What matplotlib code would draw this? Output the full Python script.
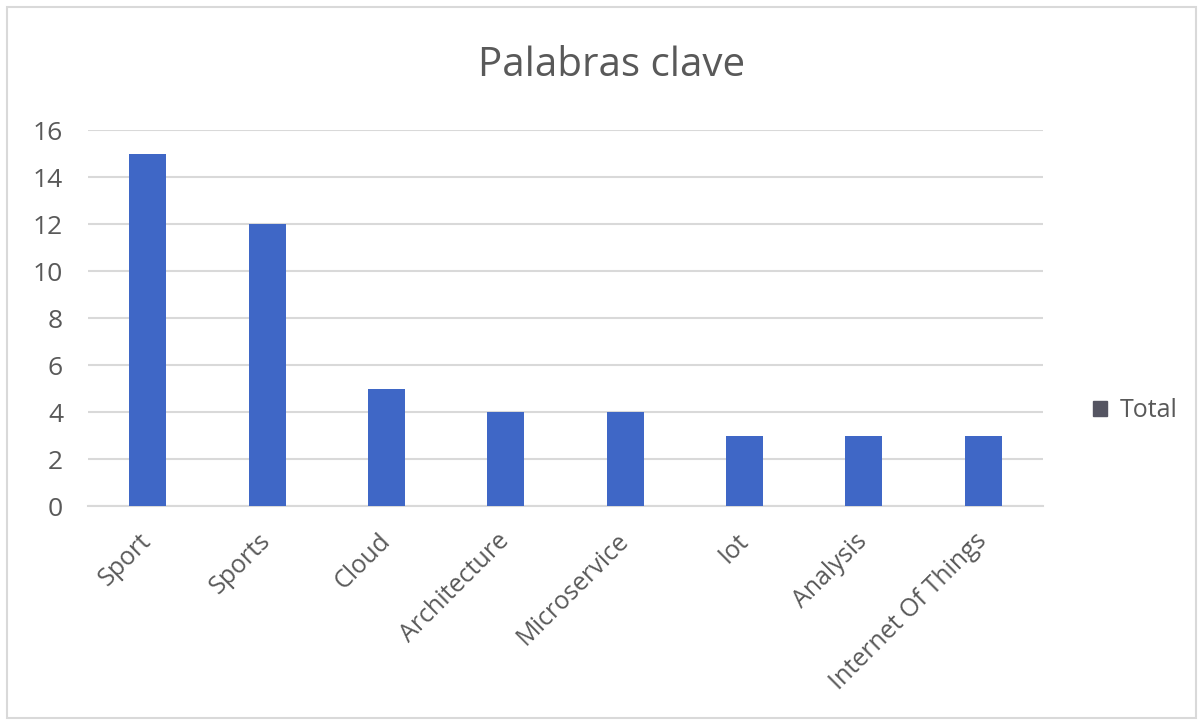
import matplotlib.pyplot as plt
import matplotlib.transforms as mtransforms
from matplotlib.patches import Rectangle

categories = ['Sport', 'Sports', 'Cloud', 'Architecture', 'Microservice',
              'Iot', 'Analysis', 'Internet Of Things']
totals = [15, 12, 5, 4, 4, 3, 3, 3]
y_ticks = [0, 2, 4, 6, 8, 10, 12, 14, 16]

plt.rcParams['font.family'] = ['Open Sans', 'DejaVu Sans']
text_color = '#595959'
bar_color = '#3F67C6'

fig = plt.figure(figsize=(12.03, 7.24), dpi=100)
ax = fig.add_axes([0.0732, 0.3011, 0.7938, 0.5193])

x = range(len(categories))
ax.bar(x, totals, width=0.31, color=bar_color, label='Total', zorder=3)

ax.set_xlim(-0.5, len(categories) - 0.5)
ax.set_ylim(0, 16)
ax.set_yticks(y_ticks)
ax.set_yticklabels([str(v) for v in y_ticks], fontsize=19, color=text_color)
ax.set_xticks(list(x))
ax.set_xticklabels(categories, rotation=45, ha='right', rotation_mode='anchor',
                   fontsize=18, color=text_color)
ax.tick_params(axis='both', length=0)
ax.tick_params(axis='x', pad=14)
ax.tick_params(axis='y', pad=18)

# nudge the rotated labels a little left and down
shift = mtransforms.ScaledTranslation(-0.09, -0.03, fig.dpi_scale_trans)
for lbl in ax.get_xticklabels():
    lbl.set_transform(lbl.get_transform() + shift)

ax.grid(axis='y', color='#d9d9d9', linewidth=1.5, zorder=0)
for s in ['top', 'right', 'left']:
    ax.spines[s].set_visible(False)
ax.spines['bottom'].set_color('#d9d9d9')
ax.spines['bottom'].set_linewidth(1.5)

fig.text(0.508, 0.909, 'Palabras clave', ha='center', va='center',
         fontsize=29, color=text_color)

leg = ax.legend(loc='center left', bbox_to_anchor=(1.029, 0.253), frameon=False,
                fontsize=18, handlelength=0.55, handleheight=0.55, handletextpad=0.5)
for t in leg.get_texts():
    t.set_color(text_color)
leg.legend_handles[0].set_color('#555562')

# outer chart border
fig.patches.append(Rectangle((0.006, 0.008), 0.988, 0.983, transform=fig.transFigure,
                             fill=False, edgecolor='#d9d9d9', linewidth=1.5))

fig.savefig('out.png', dpi=100)
